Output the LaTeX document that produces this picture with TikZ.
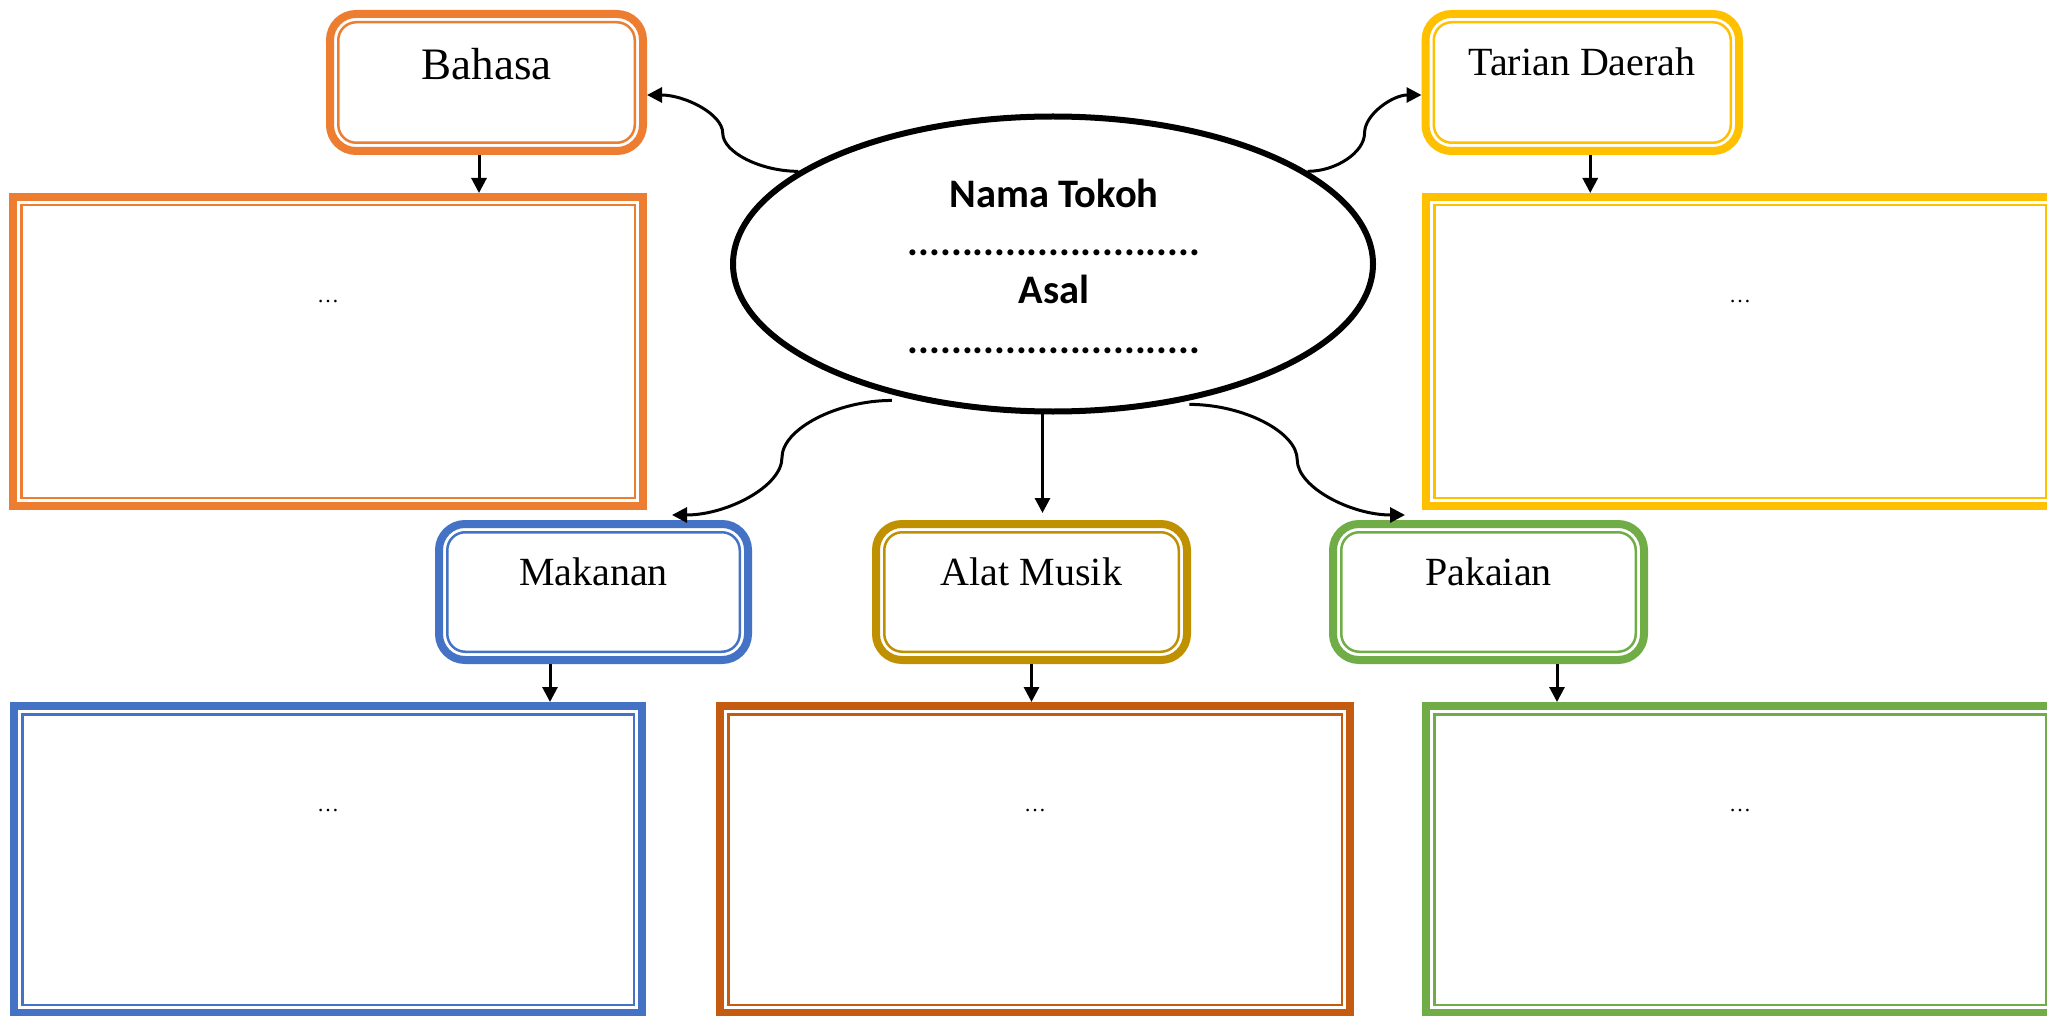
\documentclass[tikz,border=0pt]{standalone}
\usepackage{fontspec}
\setmainfont{Liberation Serif}
\newfontfamily\calib{Carlito}
\usetikzlibrary{arrows.meta,shapes.geometric,calc}
\definecolor{cOrange}{HTML}{ED7D31}
\definecolor{cYellow}{HTML}{FFC000}
\definecolor{cBlue}{HTML}{4472C4}
\definecolor{cGold}{HTML}{BF9000}
\definecolor{cDark}{HTML}{C55A11}
\definecolor{cGreen}{HTML}{70AD47}
\tikzset{
  smallbox/.style={draw=#1, line width=8pt, rounded corners=26pt, inner sep=0pt,
    minimum width=311pt, minimum height=136pt,
    path picture={\draw[#1, line width=2.5pt, rounded corners=18pt]
      ([shift={(8.25pt,-8.25pt)}]path picture bounding box.north west) rectangle
      ([shift={(-8.25pt,8.25pt)}]path picture bounding box.south east);}},
  bigbox/.style={draw=#1, line width=8pt, sharp corners, inner sep=0pt,
    minimum width=628pt, minimum height=307pt,
    path picture={\draw[#1, line width=2.5pt, sharp corners]
      ([shift={(8.25pt,-8.25pt)}]path picture bounding box.north west) rectangle
      ([shift={(-8.25pt,8.25pt)}]path picture bounding box.south east);}},
  lbl/.style={anchor=base, inner sep=0pt, font=\fontsize{40}{48}\selectfont},
  dots/.style={anchor=base, inner sep=0pt, font=\fontsize{22}{26}\selectfont},
  ctext/.style={anchor=base, inner sep=0pt, font=\calib\bfseries\fontsize{40.5}{48}\selectfont},
  conn/.style={draw=black, line width=3pt, -{Triangle[length=15pt,width=15pt]}},
  curv/.style={to path={let \p1=(\tikztostart), \p2=(\tikztotarget) in
    .. controls ({0.75*\x1+0.25*\x2},\y1) and ({0.5*\x1+0.5*\x2},{0.75*\y1+0.25*\y2})
    .. ({0.5*\x1+0.5*\x2},{0.5*\y1+0.5*\y2})
    .. controls ({0.5*\x1+0.5*\x2},{0.25*\y1+0.75*\y2}) and ({0.25*\x1+0.75*\x2},\y2)
    .. (\tikztotarget)}}
}
\begin{document}
\begin{tikzpicture}[x=1pt,y=-1pt]
\useasboundingbox (0,0) rectangle (2047,1016);
\fill[white] (0,0) rectangle (2047,1016);

% small boxes
\node[smallbox=cOrange, minimum width=313pt, minimum height=137pt] (bahasa) at (486.5,82.5) {};
\node[smallbox=cYellow, minimum width=313.5pt, minimum height=137pt] (tarian) at (1582.25,82.5) {};
\node[smallbox=cBlue, minimum width=309pt] (makanan) at (593.5,592) {};
\node[smallbox=cGold] (alat) at (1031.5,592) {};
\node[smallbox=cGreen] (pakaian) at (1488.5,592) {};

% big boxes
\node[bigbox=cOrange, minimum width=630pt, minimum height=309pt] (bigBahasa) at (328,351.5) {};
\node[bigbox=cYellow, minimum height=309pt] (bigTarian) at (1740,351.5) {};
\node[bigbox=cBlue] (bigMakanan) at (328,859.5) {};
\node[bigbox=cDark, minimum width=630pt] (bigAlat) at (1035,859.5) {};
\node[bigbox=cGreen] (bigPakaian) at (1740,859.5) {};

% labels
\node[lbl, font=\fontsize{45}{54}\selectfont] (tBahasa) at (486.5,80) {Bahasa};
\node[lbl] (tTarian) at (1582,76) {Tarian Daerah};
\node[lbl] (tMakanan) at (593.5,585) {Makanan};
\node[lbl] (tAlat) at (1031.5,585) {Alat Musik};
\node[lbl] (tPakaian) at (1488.5,585) {Pakaian};

% dots in big boxes
\node[dots] (dBahasa) at (328,302) {…};
\node[dots] (dTarian) at (1740,302) {…};
\node[dots] (dMakanan) at (328,811) {…};
\node[dots] (dAlat) at (1035,811) {…};
\node[dots] (dPakaian) at (1740,811) {…};

% central ellipse
\node[ellipse, draw=black, line width=6pt, minimum width=640pt, minimum height=295pt, inner sep=0pt] (ell) at (1053,264) {};
\node[ctext] (tNama) at (1054,208) {Nama Tokoh};
\node[ctext] (tDots1) at (1054,256) {...........................};
\node[ctext] (tAsal) at (1054,303) {Asal};
\node[ctext] (tDots2) at (1054,353) {...........................};

% connectors from ellipse
\draw[conn] (ell.160) to[curv] ([yshift=-12.5pt]bahasa.east);
\draw[conn] (ell.20.5) to[curv] ([yshift=-12.5pt]tarian.west);
\draw[conn] ([yshift=-6pt]ell.219.6) to[curv] ([shift={(78.5pt,5pt)}]makanan.north);
\draw[conn] ([yshift=-4pt]ell.315.7) to[curv] ([shift={(-83.5pt,5pt)}]pakaian.north);
\draw[conn] (ell.266) -- ([yshift=7pt]ell.266 |- alat.north);

% connectors small to big
\draw[conn] ([xshift=-7.5pt]bahasa.south) -- ([xshift=-7.5pt]bahasa.south |- bigBahasa.north);
\draw[conn] ([xshift=8pt]tarian.south) -- ([xshift=8pt]tarian.south |- bigTarian.north);
\draw[conn] ([xshift=-43.5pt]makanan.south) -- ([xshift=-43.5pt]makanan.south |- bigMakanan.north);
\draw[conn] (alat.south) -- (alat.south |- bigAlat.north);
\draw[conn] ([xshift=68.5pt]pakaian.south) -- ([xshift=68.5pt]pakaian.south |- bigPakaian.north);
\end{tikzpicture}
\end{document}
